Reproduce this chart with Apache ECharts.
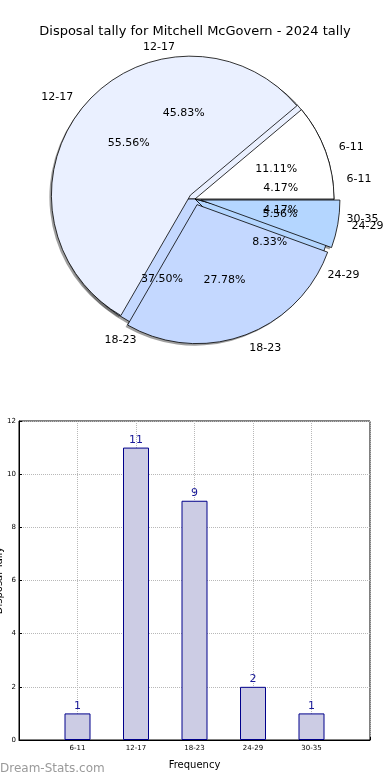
<!DOCTYPE html>
<html>
<head>
<meta charset="utf-8">
<script src="https://cdn.jsdelivr.net/npm/echarts@6/dist/echarts.min.js"></script>
<style>
html,body{margin:0;padding:0;background:#fff;}
#c{width:390px;height:780px;}
</style>
</head>
<body>
<div id="c"></div>
<script>
const titleText = 'Disposal tally for Mitchell McGovern - 2024 tally';
const categories = ['6-11', '12-17', '18-23', '24-29', '30-35'];
const seasonTally = [1, 11, 9, 2, 1];          // 2024 (24 games)
const otherCategories = ['6-11', '12-17', '18-23', '24-29'];
const otherTally = [2, 10, 5, 1];              // second pie (18 games)
const explodedOther = ['12-17', '18-23', '24-29'];
const sliceColors = {'6-11': '#ffffff', '12-17': '#eaf0ff', '18-23': '#c4d8ff', '24-29': '#b4d6ff', '30-35': '#dde8ff'};
const yTicks = [0, 2, 4, 6, 8, 10, 12];
const watermark = 'Dream-Stats.com';
const yAxisName = 'Disposal Tally';
const xAxisName = 'Frequency';

const FONT = 'DejaVu Sans';
const CX = 195, CY = 199, R = 139;

function pieData(cats, vals, withSel, colorFn) {
  const total = vals.reduce((a, b) => a + b, 0);
  return cats.map((c, i) => ({
    name: c, value: vals[i], pct: (vals[i] / total * 100).toFixed(2) + '%',
    selected: withSel ? explodedOther.includes(c) : false,
    itemStyle: colorFn(c)
  }));
}
const slicesStyle = c => ({color: sliceColors[c], borderColor: '#000', borderWidth: 0.8});
const shadowStyle = c => ({color: 'rgba(80,80,80,0.55)', borderWidth: 0});
const clearStyle = c => ({color: 'rgba(0,0,0,0)', borderWidth: 0});

function basePie(extra) {
  return Object.assign({
    type: 'pie', clockwise: false, startAngle: 0, avoidLabelOverlap: false,
    animation: false, silent: true, center: [CX, CY], radius: [0, R],
    label: {show: false}, labelLine: {show: false}, minAngle: 0,
    labelLayout: {hideOverlap: false}
  }, extra);
}
function outerLabelPie(cats, vals, sel, z) {
  return basePie({
    z: z, selectedMode: sel ? 'multiple' : false, selectedOffset: 6,
    data: pieData(cats, vals, sel, clearStyle),
    label: {show: true, position: 'outside', formatter: '{b}', fontFamily: FONT, fontSize: 11, color: '#000', distanceToLabelLine: 0},
    labelLine: {show: false, length: 0.1 * R, length2: 0}
  });
}
function pctLabelPie(cats, vals, z) {
  return basePie({
    z: z, radius: [0, 1.2 * R],
    data: pieData(cats, vals, false, clearStyle),
    label: {show: true, position: 'inside', fontFamily: FONT, fontSize: 11, color: '#000',
      formatter: p => p.data.pct}
  });
}

const barCats = [''].concat(categories, ['']);
const barVals = [null].concat(seasonTally, [null]);

const option = {
  backgroundColor: '#fff',
  animation: false,
  title: {text: titleText, left: 'center', top: 20, textStyle: {fontFamily: FONT, fontSize: 13, fontWeight: 'normal', color: '#000'}},
  graphic: [{type: 'text', left: 0, top: 763, style: {text: watermark, fill: '#9a9a9a', font: '12px "DejaVu Sans"'}}],
  grid: {left: 19, right: 20, top: 421, bottom: 40, show: true, borderColor: '#000', borderWidth: 1, backgroundColor: 'transparent', outerBoundsMode: 'none', containLabel: false},
  xAxis: {
    type: 'category', data: barCats, boundaryGap: false,
    name: xAxisName, nameLocation: 'middle', nameGap: 20, nameMoveOverlap: false,
    nameTextStyle: {fontFamily: FONT, fontSize: 10, color: '#000'},
    axisLine: {lineStyle: {color: '#000'}},
    axisTick: {show: true, inside: true, length: 3, lineStyle: {color: '#000'}},
    axisLabel: {fontFamily: FONT, fontSize: 7, color: '#000', margin: 5, interval: 0},
    splitLine: {show: true, lineStyle: {color: '#b8b8b8', type: 'dotted', width: 1}}
  },
  yAxis: {
    type: 'value', min: yTicks[0], max: yTicks[yTicks.length - 1], interval: yTicks[1] - yTicks[0],
    name: yAxisName, nameLocation: 'middle', nameGap: 15, nameRotate: 90, nameMoveOverlap: false,
    nameTextStyle: {fontFamily: FONT, fontSize: 10, color: '#000'},
    axisLine: {show: true, lineStyle: {color: '#000'}},
    axisTick: {show: true, inside: true, length: 3, lineStyle: {color: '#000'}},
    axisLabel: {fontFamily: FONT, fontSize: 7, color: '#000', margin: 3},
    splitLine: {show: true, lineStyle: {color: '#b8b8b8', type: 'dotted', width: 1}}
  },
  series: [
    basePie({z: 0, data: pieData(categories, seasonTally, false, shadowStyle), center: [CX - 2, CY + 2]}),
    basePie({z: 0, data: pieData(otherCategories, otherTally, true, shadowStyle), center: [CX - 2, CY + 2], selectedMode: 'multiple', selectedOffset: 6}),
    basePie({z: 1, data: pieData(categories, seasonTally, false, slicesStyle)}),
    basePie({z: 2, data: pieData(otherCategories, otherTally, true, slicesStyle), selectedMode: 'multiple', selectedOffset: 6}),
    outerLabelPie(categories, seasonTally, false, 5),
    outerLabelPie(otherCategories, otherTally, true, 5),
    pctLabelPie(categories, seasonTally, 5),
    pctLabelPie(otherCategories, otherTally, 5),
    {
      type: 'bar', data: barVals, barWidth: 26, z: 3,
      itemStyle: {color: '#ccccE4', borderColor: '#00008b', borderWidth: 1},
      label: {show: true, position: 'top', distance: 2, fontFamily: FONT, fontSize: 11, color: '#1a1a99'}
    }
  ]
};
const chart = echarts.init(document.getElementById('c'), null, {renderer: 'canvas'});
chart.setOption(option);
</script>
</body>
</html>
